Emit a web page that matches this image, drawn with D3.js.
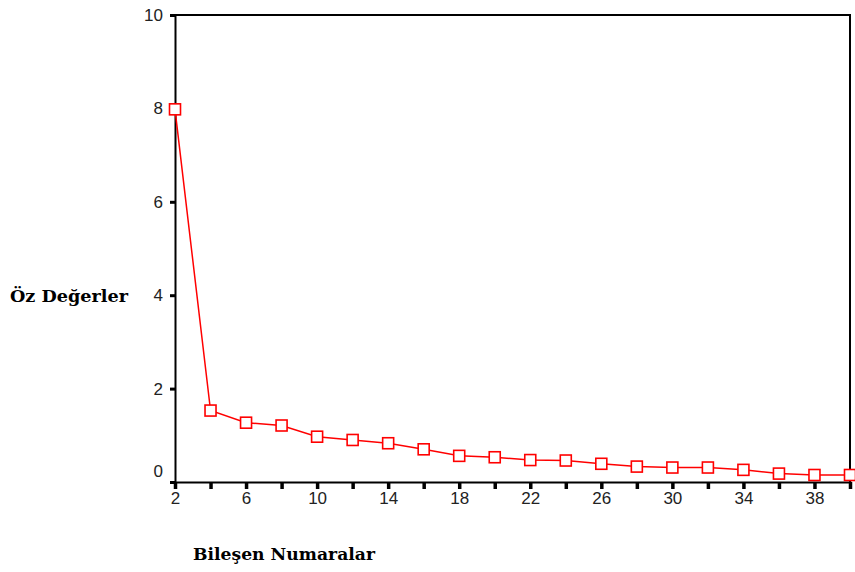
<!DOCTYPE html>
<html><head><meta charset="utf-8">
<script src="https://cdn.jsdelivr.net/npm/d3@7"></script>
<style>body{margin:0;background:#fff}svg{display:block}</style>
</head><body>
<script>
const components = [2,4,6,8,10,12,14,16,18,20,22,24,26,28,30,32,34,36,38,40];
const eigenvalues = [7.98,1.53,1.27,1.21,0.97,0.90,0.83,0.70,0.56,0.53,0.47,0.46,0.39,0.33,0.31,0.31,0.26,0.18,0.15,0.15];
const yTicks = [0,2,4,6,8,10];
const xTickMarks = [2,4,6,8,10,12,14,16,18,20,22,24,26,28,30,32,34,36,38,40];
const xTickLabels = [2,6,10,14,18,22,26,30,34,38];
const yTitle = "Öz Değerler";
const xTitle = "Bileşen Numaralar";

const W=855,H=572;
const L=175,R=850,T=15,B=482;
const svg=d3.select("body").append("svg").attr("width",W).attr("height",H);
const x=d3.scaleLinear().domain([2,40]).range([L,R]);
const y=d3.scaleLinear().domain([0,10]).range([B,T]);

// frame top and right
svg.append("path").attr("d",`M${L},${T}H${R}V${B}`).attr("fill","none").attr("stroke","#000").attr("stroke-width",2);

// y axis
const ya=svg.append("g").attr("transform",`translate(${L},0)`)
  .call(d3.axisLeft(y).tickValues(yTicks).tickSize(5).tickPadding(7));
ya.select(".domain").attr("stroke-width",2);
ya.selectAll(".tick line").attr("stroke-width",3);
ya.selectAll(".tick text").attr("font-family","'Liberation Sans',Arial,sans-serif").attr("font-size",17).attr("fill","#222");
ya.selectAll(".tick").filter(d=>d===0).select("text").attr("dy","-0.3em");

// x axis
const xa=svg.append("g").attr("transform",`translate(0,${B})`)
  .call(d3.axisBottom(x).tickValues(xTickMarks).tickSize(7).tickPadding(3)
    .tickFormat(d=>xTickLabels.includes(d)?d:""));
xa.select(".domain").attr("stroke-width",2);
xa.selectAll(".tick line").attr("stroke-width",3.5);
xa.selectAll(".tick text").attr("font-family","'Liberation Sans',Arial,sans-serif").attr("font-size",17).attr("fill","#222");

// line
const pts=components.map((c,i)=>[c,eigenvalues[i]]);
svg.append("path").datum(pts)
  .attr("d",d3.line().x(d=>x(d[0])).y(d=>y(d[1])))
  .attr("fill","none").attr("stroke","#ff0000").attr("stroke-width",1.5);
svg.selectAll("rect.m").data(pts).enter().append("rect").attr("class","m")
  .attr("x",d=>x(d[0])-5.5).attr("y",d=>y(d[1])-5.5).attr("width",11).attr("height",11)
  .attr("fill","#fff").attr("stroke","#ff0000").attr("stroke-width",1.6);

// titles
const tf="'DejaVu Serif','Liberation Serif',serif";
svg.append("text").attr("x",10).attr("y",302).text(yTitle)
  .attr("font-family",tf).attr("font-weight","bold").attr("font-size",16.5).attr("textLength",118).attr("lengthAdjust","spacingAndGlyphs");
svg.append("text").attr("x",193).attr("y",560).text(xTitle)
  .attr("font-family",tf).attr("font-weight","bold").attr("font-size",16.5).attr("textLength",182).attr("lengthAdjust","spacingAndGlyphs");
</script>
</body></html>
